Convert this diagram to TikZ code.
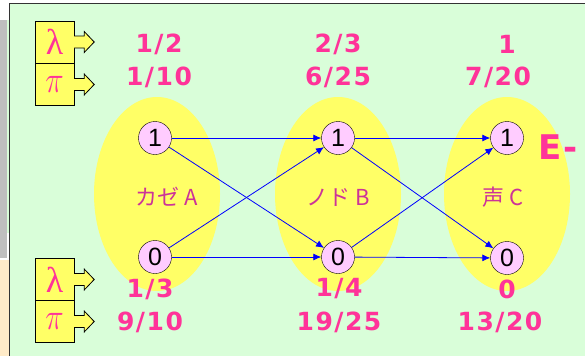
\documentclass[tikz,border=0pt]{standalone}
\usepackage{fontspec}
\setmainfont{DejaVu Sans}
\newfontfamily\numfont[LetterSpace=6]{DejaVu Sans}
\newfontfamily\jpfont{Noto Sans CJK JP}
\newfontfamily\greekfont{Liberation Serif}
\newfontfamily\digitfont{Liberation Sans}
\usetikzlibrary{positioning,calc,arrows.meta}

\definecolor{panelgreen}{HTML}{D9FED9}
\definecolor{stripgray}{HTML}{BFBFBF}
\definecolor{stripbeige}{HTML}{FFEBC8}
\definecolor{numpink}{HTML}{FF3399}
\definecolor{labelmag}{HTML}{CC3399}
\definecolor{statepink}{HTML}{FFCCFF}
\definecolor{boxyellow}{HTML}{FFFF66}

\tikzset{
  state/.style={circle, draw=black, fill=statepink, minimum size=33pt, inner sep=0pt,
    font=\digitfont\fontsize{25}{25}\selectfont},
  prob/.style={text=numpink, inner sep=0pt, font=\numfont\bfseries\fontsize{25}{25}\selectfont},
  varname/.style={text=labelmag, inner sep=0pt, font=\jpfont\fontsize{22}{22}\selectfont},
  parambox/.style={draw=black, fill=boxyellow, minimum width=39pt, minimum height=42pt,
    inner sep=0pt, text=numpink, font=\greekfont\fontsize{36}{36}\selectfont},
  trans/.style={draw=blue, line width=0.8pt, -{Latex[length=8pt,width=7pt]}}
}
% block arrow sticking out of a parameter box
\newcommand\boxpointer[1]{%
  \filldraw[fill=boxyellow, draw=black, line width=0.8pt]
    ($(#1.east)+(0,-6)$) -- ++(10,0) -- ++(0,-4.5) -- ++(10,10.5)
    -- ++(-10,10.5) -- ++(0,-4.5) -- ++(-10,0);}
\newcommand\bigpi{\raisebox{1pt}{\scalebox{1.25}[1.5]{$\pi$}}}

\begin{document}
\begin{tikzpicture}[x=1pt,y=-1pt]
  \useasboundingbox (0,0) rectangle (585,356);
  % side strip and panel
  \fill[white] (0,0) rectangle (585,356);
  \fill[stripgray] (0,20) rectangle (7,258);
  \fill[panelgreen] (7,20) rectangle (9.5,233);
  \fill[stripbeige] (0,260) rectangle (9.5,356);
  \fill[panelgreen] (9.5,3.5) rectangle (585,356);
  \draw[black!80, line width=1pt] (9.5,356) -- (9.5,3.5) -- (585,3.5);
  % groups
  \fill[boxyellow] (157,194) ellipse (63 and 97);
  \fill[boxyellow] (338,194) ellipse (63 and 97);
  \fill[boxyellow] (507,194) ellipse (63 and 97);
  \node[varname] (nameA) at (167,197) {カゼ A};
  \node[varname] (nameB) at (338,197) {ノド B};
  \node[varname] (nameC) at (503,197) {声 C};
  % states
  \node[state] (a1) at (155,138) {1};
  \node[state] (a0) at (155,257) {0};
  \node[state] (b1) at (338,138) {1};
  \node[state] (b0) at (338,257) {0};
  \node[state] (c1) at (507,138) {1};
  \node[state] (c0) at (507,258) {0};
  % transitions
  \draw[trans] (a1) -- (b1);
  \draw[trans] (a1) -- (b0);
  \draw[trans] (a0) -- (b1);
  \draw[trans] (a0) -- (b0);
  \draw[trans] (b1) -- (c1);
  \draw[trans] (b1) -- (c0);
  \draw[trans] (b0) -- (c1);
  \draw[trans] (b0) -- (c0);
  % parameter boxes
  \node[parambox] (lamtop) at (54.5,42) {λ};
  \node[parambox] (pitop) at (54.5,84.5) {\bigpi};
  \node[parambox] (lambot) at (54.5,279.5) {λ};
  \node[parambox] (pibot) at (54.5,321.5) {\bigpi};
  \boxpointer{lamtop}
  \boxpointer{pitop}
  \boxpointer{lambot}
  \boxpointer{pibot}
  % values
  \node[prob] (lamA1) at (159,44) {1/2};
  \node[prob] (piA1) at (159,77) {1/10};
  \node[prob] (lamB1) at (338,44) {2/3};
  \node[prob] (piB1) at (338,77) {6/25};
  \node[prob] (lamC1) at (507,44) {1};
  \node[prob] (piC1) at (498,77) {7/20};
  \node[prob] (lamA0) at (150,289) {1/3};
  \node[prob] (piA0) at (150,322) {9/10};
  \node[prob] (lamB0) at (339,289) {1/4};
  \node[prob] (piB0) at (339,322) {19/25};
  \node[prob] (lamC0) at (507,289) {0};
  \node[prob] (piC0) at (500,322) {13/20};
  \node[prob, font=\numfont\bfseries\fontsize{34}{34}\selectfont] (estep) at (558,147) {E-};
\end{tikzpicture}
\end{document}
